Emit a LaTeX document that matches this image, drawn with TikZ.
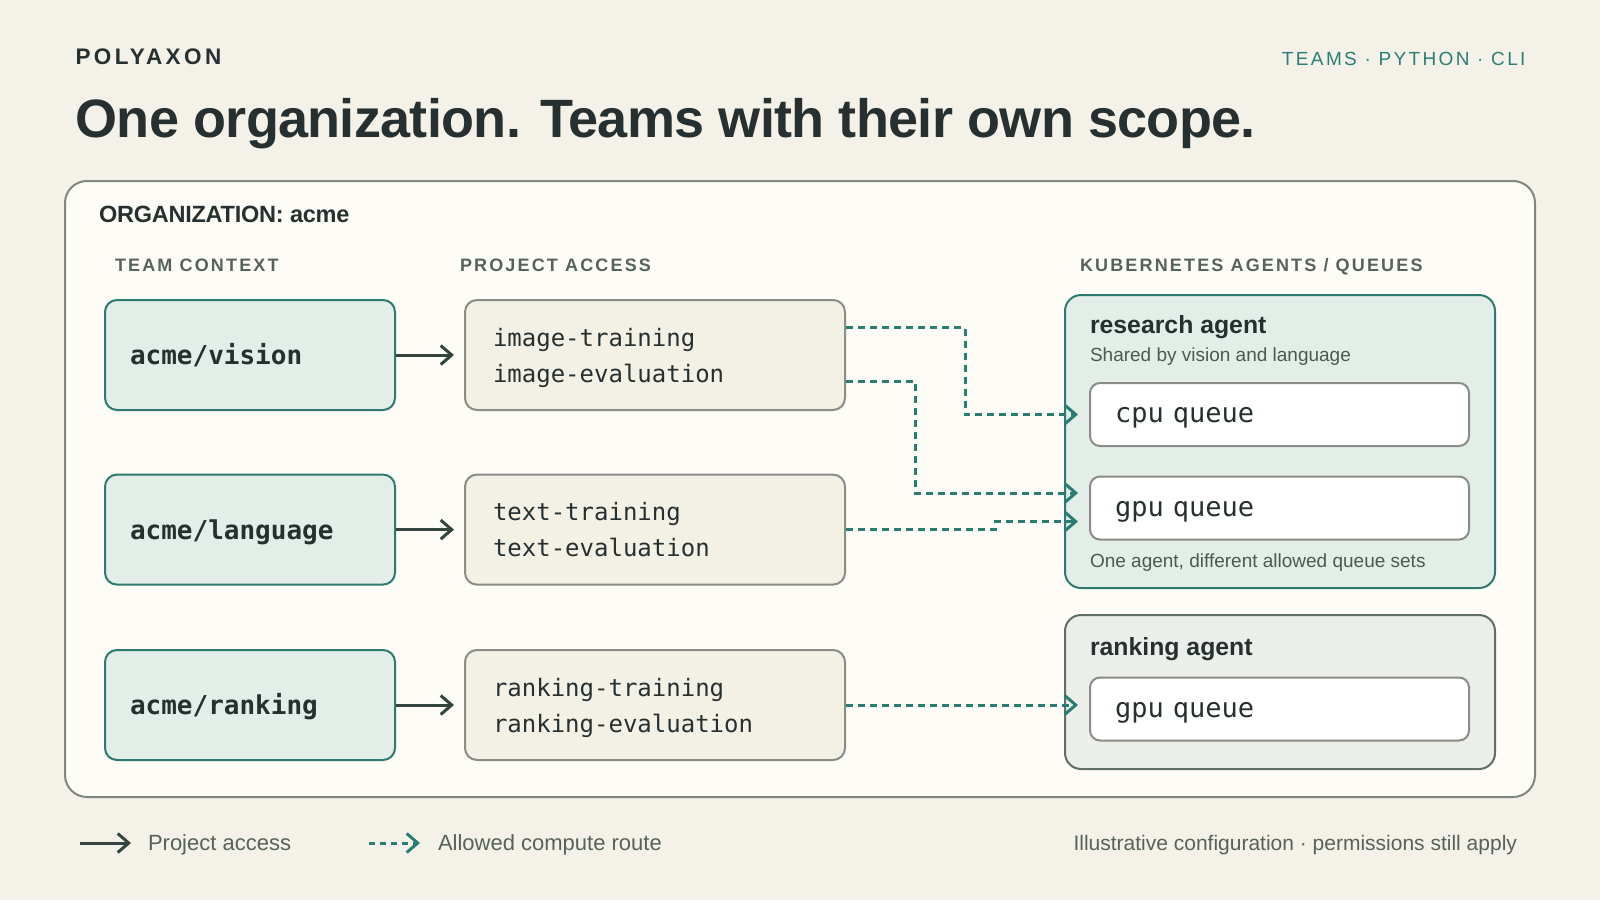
\documentclass[tikz,border=0pt]{standalone}
\usepackage{fontspec}
\setmainfont{Liberation Sans}
\newfontfamily\monof{DejaVu Sans Mono}
\newfontfamily\spacedf[LetterSpace=12]{Liberation Sans}
\newfontfamily\brandf[LetterSpace=15]{Liberation Sans}
\newfontfamily\teamsf[LetterSpace=12.5]{Liberation Sans}
\newfontfamily\tightf[LetterSpace=-1.3]{Liberation Sans}
\newfontfamily\orgf[LetterSpace=-1]{Liberation Sans}
\usetikzlibrary{arrows.meta,calc}
\newcommand\fsz[2]{\fontsize{#1}{#2}\selectfont}
\definecolor{bg}{HTML}{F4F2E8}
\definecolor{orgfill}{HTML}{FDFCF7}
\definecolor{orgline}{HTML}{7E887F}
\definecolor{ink}{HTML}{263030}
\definecolor{tealtxt}{HTML}{2D7D74}
\definecolor{headgray}{HTML}{56635B}
\definecolor{teamfill}{HTML}{E3EEE8}
\definecolor{tealline}{HTML}{2F7A70}
\definecolor{projfill}{HTML}{F3F1E6}
\definecolor{projline}{HTML}{8A8D85}
\definecolor{rankfill}{HTML}{ECEFE9}
\definecolor{rankline}{HTML}{5F6F65}
\definecolor{subtxt}{HTML}{4A5A52}
\definecolor{accessc}{HTML}{34453F}
\definecolor{routec}{HTML}{2A7D73}
\definecolor{legtxt}{HTML}{56625A}
\tikzset{
  txt/.style={inner sep=0pt, outer sep=0pt},
  teambox/.style={draw=tealline, fill=teamfill, line width=2pt, rounded corners=12pt,
    minimum width=290pt, minimum height=110pt, text width=240pt, inner xsep=25pt,
    text height=24pt, text depth=5pt,
    align=left, font=\monof\bfseries\fsz{26pt}{30pt}, text=ink},
  projbox/.style={draw=projline, fill=projfill, line width=2pt, rounded corners=12pt,
    minimum width=380pt, minimum height=110pt, text width=324pt, inner xsep=28pt,
    text height=18.2pt, text depth=36pt,
    align=left, font=\monof\fsz{24pt}{36pt}, text=ink},
  queuebox/.style={draw=projline, fill=white, line width=2pt, rounded corners=10pt,
    minimum width=379pt, minimum height=63pt, text width=329pt, inner xsep=25pt,
    text height=22pt, text depth=6pt,
    align=left, font=\monof\fsz{27pt}{30pt}, text=ink},
  agentbox/.style={line width=2pt, rounded corners=16pt, minimum width=430pt},
  head/.style={txt, anchor=base west, font=\spacedf\bfseries\fsz{18pt}{22pt}, text=headgray},
  tipx/.tip={Straight Barb[length=11pt,width=19pt]},
  access/.style={draw=accessc, line width=3pt, -tipx},
  route/.style={draw=routec, line width=3pt, dash pattern=on 7pt off 5pt, -tipx},
}
\begin{document}
\begin{tikzpicture}[x=1pt,y=-1pt]
\fill[bg] (0,0) rectangle (1600,900);
\useasboundingbox (0,0) rectangle (1600,900);

% header
\node[txt, anchor=base west, font=\brandf\bfseries\fsz{22.5pt}{26pt}, text=ink] (brand) at (75.5,64.3) {POLYAXON};
\node[txt, anchor=base east, font=\teamsf\fsz{19pt}{23pt}, text=tealtxt] (tags) at (1525.5,65.3) {TEAMS · PYTHON · CLI};
\node[txt, anchor=base west, font=\tightf\bfseries\fsz{54pt}{60pt}, text=ink] (title) at (75.5,137.8) {One organization. Teams with their own scope.};

% organization frame
\node[draw=orgline, fill=orgfill, line width=2pt, rounded corners=22pt,
  minimum width=1470pt, minimum height=616pt] (org) at (800,489) {};
\node[txt, anchor=base west, font=\orgf\bfseries\fsz{23.5pt}{26pt}, text=ink] (orglabel) at (99,222.5) {ORGANIZATION: acme};

\node[head] (hteam) at (115,271.4) {TEAM CONTEXT};
\node[head] (hproj) at (460,271.4) {PROJECT ACCESS};
\node[head] (hkube) at (1080,271.4) {KUBERNETES AGENTS / QUEUES};

% teams
\node[teambox] (tv) at (250,355) {acme/vision};
\node[teambox] (tl) at (250,529.6) {acme/language};
\node[teambox] (tr) at (250,705) {acme/ranking};

% projects
\node[projbox] (pv) at (655,355) {image-training\\image-evaluation};
\node[projbox] (pl) at (655,529.6) {text-training\\text-evaluation};
\node[projbox] (pr) at (655,705) {ranking-training\\ranking-evaluation};

\draw[access, shorten >=10pt] (tv) -- (pv);
\draw[access, shorten >=10pt] (tl) -- (pl);
\draw[access, shorten >=10pt] (tr) -- (pr);

% agents
\node[agentbox, draw=tealline, fill=teamfill, minimum height=293pt] (ra) at (1280,441.5) {};
\node[txt, anchor=base west, font=\bfseries\fsz{24.8pt}{28pt}, text=ink] (ratitle) at (1090,333.7) {research agent};
\node[txt, anchor=base west, font=\fsz{19pt}{22pt}, text=subtxt] (rasub) at (1090,361) {Shared by vision and language};
\node[queuebox] (cpu) at (1279.5,414.5) {cpu queue};
\node[queuebox] (gpu) at (1279.5,508) {gpu queue};
\node[txt, anchor=base west, font=\fsz{19pt}{22pt}, text=subtxt] (ranote) at (1090,567) {One agent, different allowed queue sets};

\node[agentbox, draw=rankline, fill=rankfill, minimum height=154pt] (rk) at (1280,692) {};
\node[txt, anchor=base west, font=\bfseries\fsz{24.8pt}{28pt}, text=ink] (rktitle) at (1090,655) {ranking agent};
\node[queuebox] (rq) at (1279.5,709) {gpu queue};

% compute routes
\draw[route, shorten >=11pt] ($(pv.east)+(0,-27.5)$) -- ++(119,0) |- (cpu.west);
\draw[route] ($(pv.east)+(0,26)$) -- ++(69,0) |- ($(gpu.west)+(-11,-15)$);
\draw[route] (pl.east) -- ++(149,0) |- ($(gpu.west)+(-11,13.5)$);
\draw[route, shorten >=11pt] (pr.east) -- (pr.east -| rq.west);

% legend
\coordinate (la1) at (80,843);
\coordinate (la2) at (131,843);
\draw[access] (la1) -- (la2);
\node[txt, anchor=west, font=\fsz{22pt}{25pt}, text=legtxt] (lat) at (148,845) {Project access};
\coordinate (lr1) at (369,843);
\coordinate (lr2) at (420,843);
\draw[route, dash pattern=on 6pt off 5pt] (lr1) -- (lr2);
\node[txt, anchor=west, font=\fsz{22pt}{25pt}, text=legtxt] (lrt) at (438,845) {Allowed compute route};
\node[txt, anchor=east, font=\fsz{21pt}{25pt}, text=legtxt] (foot) at (1517,845) {Illustrative configuration · permissions still apply};
\end{tikzpicture}
\end{document}
